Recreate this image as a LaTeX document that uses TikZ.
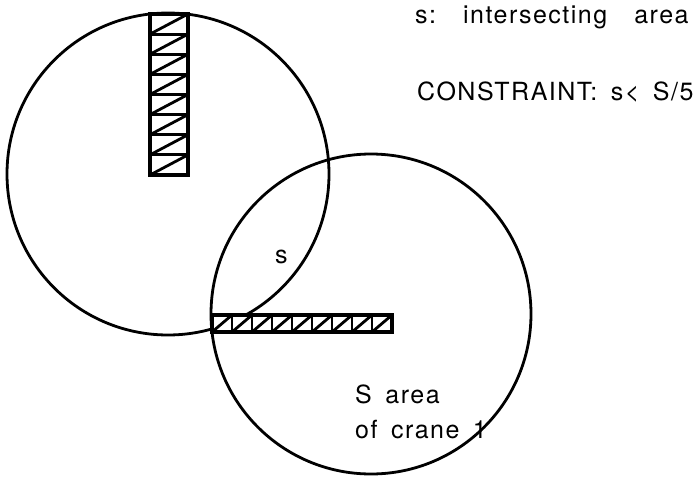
\documentclass[tikz,border=0pt]{standalone}
\usepackage{fontspec}
\setmainfont{TeX Gyre Heros}[LetterSpace=6,WordSpace=1.6]
\begin{document}
\begin{tikzpicture}[
   x=1pt,y=-1pt,
   reach/.style={circle,draw,line width=2.8pt,inner sep=0pt},
   jib/.style={draw,fill=white,line width=3.2pt},
   hatch/.style={line width=2.8pt},
   txt/.style={anchor=base west,inner sep=0pt},
   every node/.style={font=\fontsize{25}{30}\selectfont}
 ]
  \useasboundingbox (0,0) rectangle (697,477);

  % working areas of the two cranes
  \node[reach,minimum size=322pt] (reach1) at (168,174) {};
  \node[reach,minimum size=320pt] (reach2) at (371,314) {};

  % jib of the left crane
  \draw[jib] (150,14) rectangle (188,175);
  \foreach \y in {0,...,7} {
    \draw[hatch] (150,{14+20.125*\y}) -- (188,{14+20.125*\y});
    \draw[hatch] (150,{14+20.125*(\y+1)}) -- (188,{14+20.125*\y});
  }

  % jib of crane 1
  \draw[jib] (212,315) rectangle (392,332);
  \foreach \x in {0,...,8} {
    \draw[hatch] ({212+20*\x},315) -- ({212+20*\x},332);
    \draw[hatch] ({212+20*\x},332) -- ({232+20*\x},315);
  }

  \node[txt] (key) at (415,23) {s:\ \ intersecting\ \ area};
  \node[txt] (rule) at (417,100) {CONSTRAINT: s< S/5};
  \node[txt] (s) at (275,263) {s};
  \node[txt] (big) at (355,403) {S area};
  \node[txt] (crane) at (355,438) {of crane 1};
\end{tikzpicture}
\end{document}
